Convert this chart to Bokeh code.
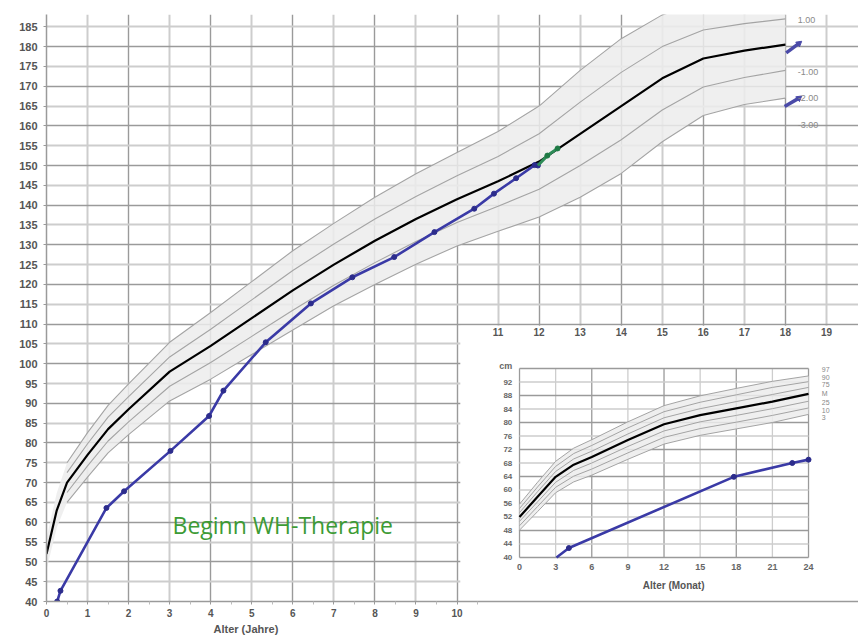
from bokeh.plotting import figure
from bokeh.models import Range1d, FixedTicker, Title
from bokeh.core.properties import value
from bokeh.embed import file_html
from bokeh.resources import INLINE

# ---------------- main chart data (age in years, height in cm) ----------------
ref_age = [0, 0.25, 0.5, 1, 1.5, 2, 3, 4, 5, 6, 7, 8, 9, 10, 11, 12, 13, 14, 15, 16, 17, 18]
ref_p2 = [56, 67.4, 75, 82.6, 89.5, 94.9, 105.4, 112.9, 120.7, 128.5, 135.4, 142, 147.9, 153.3, 158.6, 165, 174, 182, 188, 191.4, 192.6, 193.5]
ref_p1 = [54, 65.2, 72.5, 79.8, 86.5, 91.7, 101.7, 108.7, 116.1, 123.5, 130.2, 136.5, 142.2, 147.4, 152.3, 158, 166, 173.5, 180, 184.2, 185.8, 187]
ref_med = [52, 63, 70, 77, 83.5, 88.5, 98, 104.5, 111.5, 118.5, 125, 131, 136.5, 141.5, 146, 151, 158, 165, 172, 177, 179, 180.5]
ref_m1 = [50, 60.8, 67.5, 74.2, 80.5, 85.3, 94.3, 100.3, 106.9, 113.5, 119.8, 125.5, 130.8, 135.6, 139.7, 144, 150, 156.5, 164, 169.8, 172.2, 174]
ref_m2 = [48, 58.6, 65, 71.4, 77.5, 82.1, 90.6, 96.1, 102.3, 108.5, 114.6, 120, 125.1, 129.7, 133.4, 137, 142, 148, 156, 162.6, 165.4, 167]

pat_age = [0.26, 0.34, 1.46, 1.89, 3.02, 3.96, 4.31, 5.34, 6.44, 7.45, 8.47, 9.45, 10.42, 10.9, 11.44, 11.89, 11.97]
pat_h = [40, 42.7, 63.6, 67.8, 78, 86.8, 93.2, 105.4, 115.2, 121.8, 126.9, 133.2, 139.1, 142.9, 146.8, 150.1, 150.0]
gh_age = [11.97, 12.2, 12.45]
gh_h = [150.0, 152.5, 154.3]

# target-height markers at the right edge
tgt_x0 = [18.02, 17.98]
tgt_y0 = [178.4, 164.9]
tgt_x1 = [18.33, 18.33]
tgt_y1 = [180.8, 167.0]

sds_labels = ["1.00", "-1.00", "-2.00", "-3.00"]
sds_lab_y = [186.6, 173.5, 167.1, 160.3]

y_ticks = list(range(40, 190, 5))
x_ticks_low = list(range(0, 11))
x_ticks_high = list(range(11, 20))

note_x = [3.07]
note_y = [59.2]
note_text = ["Beginn WH-Therapie"]

# ---------------- inset data (age in months) ----------------
inf_month = [0, 1.5, 3, 4.5, 6, 9, 12, 15, 18, 21, 24]
inf_u3 = [55.8, 62.3, 68.5, 72.4, 74.9, 80.2, 85.0, 87.9, 90.1, 92.2, 93.8]
inf_u2 = [54.5, 60.9, 67.0, 70.8, 73.2, 78.4, 83.2, 86.0, 88.2, 90.4, 92.1]
inf_u1 = [53.3, 59.5, 65.5, 69.2, 71.5, 76.6, 81.4, 84.1, 86.2, 88.3, 90.4]
inf_med = [52.0, 58.0, 63.9, 67.5, 69.8, 74.8, 79.5, 82.2, 84.2, 86.2, 88.5]
inf_l1 = [50.7, 56.5, 62.3, 65.8, 68.0, 72.9, 77.5, 80.2, 82.1, 84.1, 86.3]
inf_l2 = [49.4, 55.1, 60.8, 64.1, 66.2, 71.0, 75.6, 78.2, 80.1, 82.1, 84.3]
inf_l3 = [48.1, 53.6, 59.2, 62.4, 64.4, 69.1, 73.6, 76.2, 78.1, 80.0, 82.4]

inf_pat_m = [3.07, 4.1, 17.8, 22.65, 24]
inf_pat_h = [40.0, 42.8, 63.9, 68.0, 69.0]

inf_x_ticks = [0, 3, 6, 9, 12, 15, 18, 21, 24]
inf_y_ticks = [40, 44, 48, 52, 56, 60, 64, 68, 72, 76, 80, 84, 88, 92]
inf_labels = ["97", "90", "75", "M", "25", "10", "3"]
inf_lab_y = [95.6, 93.4, 91.2, 88.5, 85.9, 83.7, 81.5]

# ---------------- figure ----------------
GRID_DARK = "#9a9a9a"
GRID_LIGHT = "#cdcdcd"
LINE_GRAY = "#a4a4a4"
BLUE = "#3a3aa6"
TXT = "#555555"

p = figure(width=858, height=639, x_range=Range1d(0, 19.78), y_range=Range1d(40, 188.1),
           output_backend="svg", toolbar_location=None,
           min_border_left=46, min_border_right=0, min_border_top=14, min_border_bottom=38)
p.outline_line_color = None
p.background_fill_color = "white"
p.extra_x_ranges = {"mo": Range1d(-39.28, 28.15)}
p.extra_y_ranges = {"cmi": Range1d(26.96, 200.9)}

# grids
p.xgrid.ticker = FixedTicker(ticks=list(range(0, 20, 2)), minor_ticks=list(range(1, 20, 2)))
p.xgrid.grid_line_color = GRID_DARK
p.xgrid.grid_line_width = 1.4
p.xgrid.minor_grid_line_color = GRID_LIGHT
p.xgrid.minor_grid_line_width = 2
p.ygrid.ticker = FixedTicker(ticks=list(range(40, 190, 10)), minor_ticks=list(range(45, 190, 10)))
p.ygrid.grid_line_color = GRID_DARK
p.ygrid.grid_line_width = 1.4
p.ygrid.minor_grid_line_color = GRID_LIGHT
p.ygrid.minor_grid_line_width = 2

# axes
p.yaxis.ticker = FixedTicker(ticks=y_ticks)
p.xaxis.ticker = FixedTicker(ticks=x_ticks_low, minor_ticks=[v + 0.5 for v in x_ticks_low])
for ax in (p.xaxis[0], p.yaxis[0]):
    ax.axis_line_color = "#9a9a9a"
    ax.axis_line_width = 1.5
    ax.major_tick_line_color = "#9a9a9a"
    ax.minor_tick_line_color = "#bbbbbb"
    ax.major_tick_out = 3
    ax.major_tick_in = 0
    ax.minor_tick_out = 3
    ax.minor_tick_in = 0
    ax.major_label_text_font = "Liberation Sans"
    ax.major_label_text_font_style = "bold"
    ax.major_label_text_color = TXT
p.yaxis.major_label_text_font_size = "11px"
p.yaxis.major_label_standoff = 6
p.yaxis.minor_tick_line_color = None
p.xaxis.major_label_text_font_size = "10px"
p.xaxis.major_label_standoff = 4

# main x-axis title, placed under the 0-10 range
p.add_layout(Title(text="Alter (Jahre)", align="left", offset=167, standoff=2,
                   text_font="Liberation Sans", text_font_style="bold", text_font_size="11px",
                   text_color="#555555"), "below")

# reference band and curves
p.varea(x=ref_age, y1=ref_m2, y2=ref_p2, fill_color="#ececec", fill_alpha=0.85)
for ys in (ref_p2, ref_p1, ref_m1, ref_m2):
    p.line(ref_age[2:], ys[2:], line_color=LINE_GRAY, line_width=1.1)
p.line(ref_age, ref_med, line_color="black", line_width=2.2)

# patient
p.line(pat_age, pat_h, line_color=BLUE, line_width=2.6)
p.scatter(pat_age, pat_h, size=5, marker="circle", fill_color="#2c2c8c", line_color="#2c2c8c")
p.line(gh_age, gh_h, line_color="#2e8b57", line_width=3)
p.scatter(gh_age[1:], gh_h[1:], size=5, marker="circle", fill_color="#1f7a45", line_color="#1f7a45")

# target-height markers
p.segment(x0=tgt_x0, y0=tgt_y0, x1=tgt_x1, y1=tgt_y1, line_color="#4a4aa8", line_width=3.5)
p.scatter(tgt_x1, tgt_y1, marker="triangle", size=6, angle=-0.9, fill_color="#4a4aa8", line_color="#4a4aa8")

# SDS labels at right
p.text(x=[18.3] * len(sds_labels), y=sds_lab_y, text=sds_labels, text_font=value("Liberation Sans"),
       text_font_size="9px", text_color="#8a8a8a", text_baseline="middle", text_align="left")

# green annotation
p.text(x=note_x, y=note_y, text=note_text, text_font=value("Open Sans"), text_font_size="23px",
       text_color="#3d9b35", text_baseline="middle", text_align="left")

# ---------------- inset panel ----------------
p.quad(left=[10.08], right=[19.78], bottom=[40], top=[109.6], fill_color="white", line_color=None)
# tick labels 11..19 of the main x axis, along the inset top
p.text(x=x_ticks_high, y=[108.0] * len(x_ticks_high), text=[str(v) for v in x_ticks_high],
       text_font=value("Liberation Sans"), text_font_style="bold", text_font_size="10px",
       text_color=TXT, text_align="center", text_baseline="middle")

R = dict(x_range_name="mo", y_range_name="cmi")
# inset grid
vx = inf_x_ticks
p.segment(x0=vx, x1=vx, y0=[40] * len(vx), y1=[96] * len(vx),
          line_color=[GRID_DARK if v % 6 == 0 else GRID_LIGHT for v in vx], line_width=1.3, **R)
hy = inf_y_ticks + [96]
p.segment(x0=[0] * len(hy), x1=[24] * len(hy), y0=hy, y1=hy,
          line_color=[GRID_DARK if v % 8 == 0 else GRID_LIGHT for v in hy], line_width=1.3, **R)

p.varea(x=inf_month, y1=inf_l3, y2=inf_u3, fill_color="#ececec", fill_alpha=0.85, **R)
for ys in (inf_u3, inf_u2, inf_u1, inf_l1, inf_l2, inf_l3):
    p.line(inf_month, ys, line_color=LINE_GRAY, line_width=1, **R)
p.line(inf_month, inf_med, line_color="black", line_width=2.2, **R)
p.line(inf_pat_m, inf_pat_h, line_color=BLUE, line_width=2.6, **R)
p.scatter(inf_pat_m[1:], inf_pat_h[1:], size=5, marker="circle", fill_color="#2c2c8c", line_color="#2c2c8c", **R)

# inset tick labels
p.text(x=[-0.6] * len(inf_y_ticks), y=inf_y_ticks, text=[str(v) for v in inf_y_ticks],
       text_font=value("Liberation Sans"), text_font_style="bold", text_font_size="8px",
       text_color="#666666", text_align="right", text_baseline="middle", **R)
p.text(x=[-0.6], y=[96.8], text=["cm"], text_font=value("Liberation Sans"), text_font_style="bold",
       text_font_size="9px", text_color="#666666", text_align="right", text_baseline="middle", **R)
p.text(x=inf_x_ticks, y=[37.1] * len(inf_x_ticks), text=[str(v) for v in inf_x_ticks],
       text_font=value("Liberation Sans"), text_font_style="bold", text_font_size="9px",
       text_color="#666666", text_align="center", text_baseline="middle", **R)
p.text(x=[12.8], y=[31.8], text=["Alter (Monat)"], text_font=value("Liberation Sans"),
       text_font_style="bold", text_font_size="10px", text_color="#555555",
       text_align="center", text_baseline="middle", **R)
p.text(x=[25.1] * len(inf_labels), y=inf_lab_y, text=inf_labels, text_font=value("Liberation Sans"),
       text_font_size="7px", text_color="#888888", text_align="left", text_baseline="middle", **R)

open("out.html", "w").write(file_html(p, INLINE))
